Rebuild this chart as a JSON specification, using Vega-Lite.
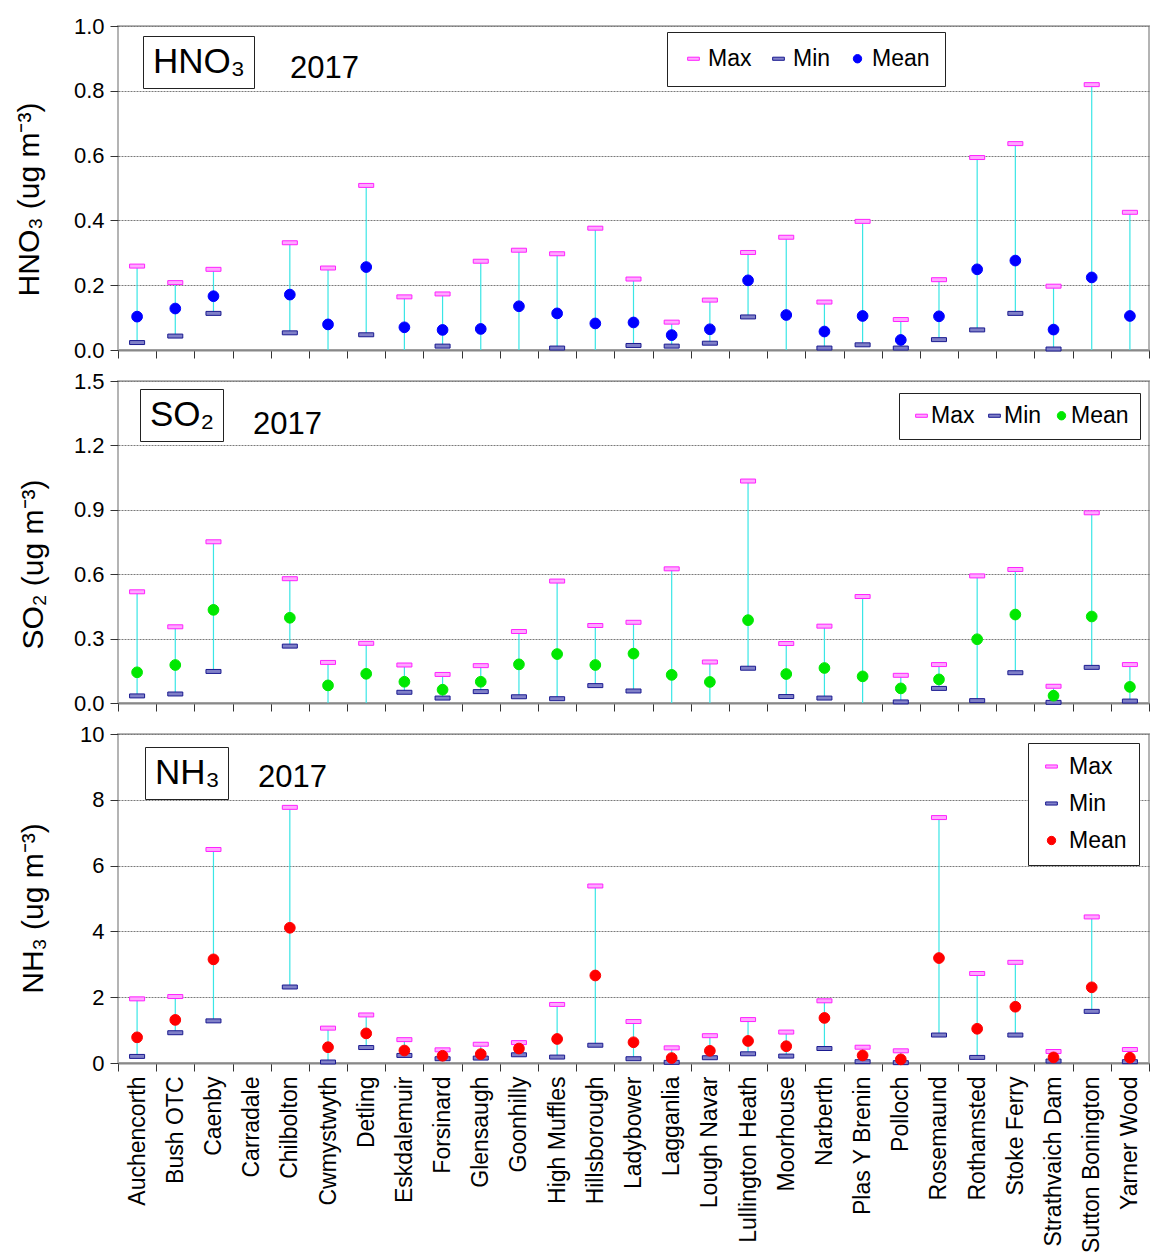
{
  "$schema": "https://vega.github.io/schema/vega-lite/v6.json",
  "padding": {"top": 14, "left": 13, "right": 0, "bottom": 0},
  "spacing": 31,
  "bounds": "flush",
  "datasets": {
    "hno3": [
      {"site": "Auchencorth", "gas": "HNO₃", "Max": 0.259, "Min": 0.023, "Mean": 0.103},
      {"site": "Bush OTC", "gas": "HNO₃", "Max": 0.208, "Min": 0.043, "Mean": 0.128},
      {"site": "Caenby", "gas": "HNO₃", "Max": 0.249, "Min": 0.113, "Mean": 0.166},
      {"site": "Chilbolton", "gas": "HNO₃", "Max": 0.331, "Min": 0.053, "Mean": 0.171},
      {"site": "Cwmystwyth", "gas": "HNO₃", "Max": 0.253, "Min": 0, "Mean": 0.079},
      {"site": "Detling", "gas": "HNO₃", "Max": 0.508, "Min": 0.047, "Mean": 0.256},
      {"site": "Eskdalemuir", "gas": "HNO₃", "Max": 0.164, "Min": 0, "Mean": 0.07},
      {"site": "Forsinard", "gas": "HNO₃", "Max": 0.173, "Min": 0.012, "Mean": 0.062},
      {"site": "Glensaugh", "gas": "HNO₃", "Max": 0.274, "Min": 0, "Mean": 0.065},
      {"site": "Goonhilly", "gas": "HNO₃", "Max": 0.308, "Min": 0, "Mean": 0.135},
      {"site": "High Muffles", "gas": "HNO₃", "Max": 0.297, "Min": 0.006, "Mean": 0.113},
      {"site": "Hillsborough", "gas": "HNO₃", "Max": 0.376, "Min": 0, "Mean": 0.082},
      {"site": "Ladybower", "gas": "HNO₃", "Max": 0.219, "Min": 0.014, "Mean": 0.085},
      {"site": "Lagganlia", "gas": "HNO₃", "Max": 0.086, "Min": 0.012, "Mean": 0.046},
      {"site": "Lough Navar", "gas": "HNO₃", "Max": 0.154, "Min": 0.021, "Mean": 0.064},
      {"site": "Lullington Heath", "gas": "HNO₃", "Max": 0.301, "Min": 0.102, "Mean": 0.215},
      {"site": "Moorhouse", "gas": "HNO₃", "Max": 0.348, "Min": 0, "Mean": 0.108},
      {"site": "Narberth", "gas": "HNO₃", "Max": 0.148, "Min": 0.006, "Mean": 0.057},
      {"site": "Plas Y Brenin", "gas": "HNO₃", "Max": 0.397, "Min": 0.016, "Mean": 0.105},
      {"site": "Polloch", "gas": "HNO₃", "Max": 0.094, "Min": 0.006, "Mean": 0.031},
      {"site": "Rosemaund", "gas": "HNO₃", "Max": 0.217, "Min": 0.032, "Mean": 0.104},
      {"site": "Rothamsted", "gas": "HNO₃", "Max": 0.594, "Min": 0.062, "Mean": 0.249},
      {"site": "Stoke Ferry", "gas": "HNO₃", "Max": 0.637, "Min": 0.113, "Mean": 0.276},
      {"site": "Strathvaich Dam", "gas": "HNO₃", "Max": 0.197, "Min": 0.003, "Mean": 0.063},
      {"site": "Sutton Bonington", "gas": "HNO₃", "Max": 0.819, "Min": 0, "Mean": 0.224},
      {"site": "Yarner Wood", "gas": "HNO₃", "Max": 0.425, "Min": 0, "Mean": 0.105}
    ],
    "so2": [
      {"site": "Auchencorth", "gas": "SO₂", "Max": 0.518, "Min": 0.033, "Mean": 0.143},
      {"site": "Bush OTC", "gas": "SO₂", "Max": 0.355, "Min": 0.042, "Mean": 0.177},
      {"site": "Caenby", "gas": "SO₂", "Max": 0.751, "Min": 0.147, "Mean": 0.434},
      {"site": "Chilbolton", "gas": "SO₂", "Max": 0.579, "Min": 0.265, "Mean": 0.397},
      {"site": "Cwmystwyth", "gas": "SO₂", "Max": 0.189, "Min": 0, "Mean": 0.082},
      {"site": "Detling", "gas": "SO₂", "Max": 0.278, "Min": 0, "Mean": 0.136},
      {"site": "Eskdalemuir", "gas": "SO₂", "Max": 0.177, "Min": 0.05, "Mean": 0.099},
      {"site": "Forsinard", "gas": "SO₂", "Max": 0.133, "Min": 0.023, "Mean": 0.062},
      {"site": "Glensaugh", "gas": "SO₂", "Max": 0.174, "Min": 0.053, "Mean": 0.099},
      {"site": "Goonhilly", "gas": "SO₂", "Max": 0.333, "Min": 0.029, "Mean": 0.18},
      {"site": "High Muffles", "gas": "SO₂", "Max": 0.568, "Min": 0.02, "Mean": 0.228},
      {"site": "Hillsborough", "gas": "SO₂", "Max": 0.361, "Min": 0.081, "Mean": 0.177},
      {"site": "Ladybower", "gas": "SO₂", "Max": 0.376, "Min": 0.056, "Mean": 0.23},
      {"site": "Lagganlia", "gas": "SO₂", "Max": 0.625, "Min": 0, "Mean": 0.131},
      {"site": "Lough Navar", "gas": "SO₂", "Max": 0.191, "Min": 0, "Mean": 0.098},
      {"site": "Lullington Heath", "gas": "SO₂", "Max": 1.034, "Min": 0.162, "Mean": 0.386},
      {"site": "Moorhouse", "gas": "SO₂", "Max": 0.277, "Min": 0.03, "Mean": 0.135},
      {"site": "Narberth", "gas": "SO₂", "Max": 0.358, "Min": 0.023, "Mean": 0.163},
      {"site": "Plas Y Brenin", "gas": "SO₂", "Max": 0.496, "Min": 0, "Mean": 0.124},
      {"site": "Polloch", "gas": "SO₂", "Max": 0.129, "Min": 0.005, "Mean": 0.068},
      {"site": "Rosemaund", "gas": "SO₂", "Max": 0.179, "Min": 0.068, "Mean": 0.11},
      {"site": "Rothamsted", "gas": "SO₂", "Max": 0.592, "Min": 0.011, "Mean": 0.297},
      {"site": "Stoke Ferry", "gas": "SO₂", "Max": 0.622, "Min": 0.141, "Mean": 0.412},
      {"site": "Strathvaich Dam", "gas": "SO₂", "Max": 0.078, "Min": 0.003, "Mean": 0.034},
      {"site": "Sutton Bonington", "gas": "SO₂", "Max": 0.886, "Min": 0.166, "Mean": 0.403},
      {"site": "Yarner Wood", "gas": "SO₂", "Max": 0.179, "Min": 0.009, "Mean": 0.075}
    ],
    "nh3": [
      {"site": "Auchencorth", "gas": "NH₃", "Max": 1.95, "Min": 0.2, "Mean": 0.78},
      {"site": "Bush OTC", "gas": "NH₃", "Max": 2.02, "Min": 0.92, "Mean": 1.31},
      {"site": "Caenby", "gas": "NH₃", "Max": 6.49, "Min": 1.28, "Mean": 3.15},
      {"site": "Chilbolton", "gas": "NH₃", "Max": 7.77, "Min": 2.31, "Mean": 4.11},
      {"site": "Cwmystwyth", "gas": "NH₃", "Max": 1.06, "Min": 0.03, "Mean": 0.48},
      {"site": "Detling", "gas": "NH₃", "Max": 1.46, "Min": 0.47, "Mean": 0.9},
      {"site": "Eskdalemuir", "gas": "NH₃", "Max": 0.71, "Min": 0.23, "Mean": 0.38},
      {"site": "Forsinard", "gas": "NH₃", "Max": 0.4, "Min": 0.13, "Mean": 0.22},
      {"site": "Glensaugh", "gas": "NH₃", "Max": 0.57, "Min": 0.15, "Mean": 0.27},
      {"site": "Goonhilly", "gas": "NH₃", "Max": 0.62, "Min": 0.25, "Mean": 0.44},
      {"site": "High Muffles", "gas": "NH₃", "Max": 1.78, "Min": 0.18, "Mean": 0.73},
      {"site": "Hillsborough", "gas": "NH₃", "Max": 5.38, "Min": 0.54, "Mean": 2.66},
      {"site": "Ladybower", "gas": "NH₃", "Max": 1.26, "Min": 0.13, "Mean": 0.63},
      {"site": "Lagganlia", "gas": "NH₃", "Max": 0.46, "Min": 0.02, "Mean": 0.15},
      {"site": "Lough Navar", "gas": "NH₃", "Max": 0.83, "Min": 0.16, "Mean": 0.37},
      {"site": "Lullington Heath", "gas": "NH₃", "Max": 1.32, "Min": 0.28, "Mean": 0.67},
      {"site": "Moorhouse", "gas": "NH₃", "Max": 0.94, "Min": 0.21, "Mean": 0.51},
      {"site": "Narberth", "gas": "NH₃", "Max": 1.89, "Min": 0.44, "Mean": 1.37},
      {"site": "Plas Y Brenin", "gas": "NH₃", "Max": 0.48, "Min": 0.04, "Mean": 0.23},
      {"site": "Polloch", "gas": "NH₃", "Max": 0.37, "Min": 0.01, "Mean": 0.11},
      {"site": "Rosemaund", "gas": "NH₃", "Max": 7.46, "Min": 0.85, "Mean": 3.19},
      {"site": "Rothamsted", "gas": "NH₃", "Max": 2.72, "Min": 0.17, "Mean": 1.04},
      {"site": "Stoke Ferry", "gas": "NH₃", "Max": 3.06, "Min": 0.85, "Mean": 1.71},
      {"site": "Strathvaich Dam", "gas": "NH₃", "Max": 0.35, "Min": 0.06, "Mean": 0.17},
      {"site": "Sutton Bonington", "gas": "NH₃", "Max": 4.44, "Min": 1.57, "Mean": 2.3},
      {"site": "Yarner Wood", "gas": "NH₃", "Max": 0.41, "Min": 0.04, "Mean": 0.16}
    ]
  },
  "vconcat": [
    {
      "width": 1031, "height": 324,
      "data": {"name": "hno3"},
      "title": {"text": "2017", "anchor": "start", "frame": "group", "fontSize": 31, "fontWeight": "normal", "font": "Liberation Sans", "offset": 0, "dx": 172, "dy": 94, "baseline": "alphabetic"},
      "layer": [
        {
          "mark": {"type": "rule", "color": "#3ae6e6", "strokeWidth": 1.2},
          "encoding": {
            "x": {"field": "site", "type": "nominal", "scale": {"type": "band", "domain": ["Auchencorth","Bush OTC","Caenby","Carradale","Chilbolton","Cwmystwyth","Detling","Eskdalemuir","Forsinard","Glensaugh","Goonhilly","High Muffles","Hillsborough","Ladybower","Lagganlia","Lough Navar","Lullington Heath","Moorhouse","Narberth","Plas Y Brenin","Polloch","Rosemaund","Rothamsted","Stoke Ferry","Strathvaich Dam","Sutton Bonington","Yarner Wood"], "paddingInner": 0, "paddingOuter": 0}, "axis": {"title": null, "labels": false, "tickBand": "extent"}},
            "y": {"field": "Min", "type": "quantitative", "scale": {"domain": [0, 1], "nice": false}, "axis": {"title": "HNO₃ (ug m⁻³)", "values": [0, 0.2, 0.4, 0.6, 0.8, 1.0], "format": ".1f", "titleX": -74, "titleY": 173}},
            "y2": {"field": "Max"},
            "strokeDash": {"field": "gas", "type": "nominal", "scale": {"range": [[1, 0]]}, "legend": {"title": null, "orient": "none", "legendX": 25, "legendY": 10, "labelFontSize": 35, "symbolType": "circle", "symbolSize": 0, "symbolOpacity": 0, "symbolStrokeWidth": 0, "labelOffset": -33, "padding": 8, "strokeColor": "#222", "fillColor": "white"}}
          }
        },
        {
          "transform": [{"fold": ["Max", "Min", "Mean"], "as": ["stat", "value"]}, {"filter": "datum.value > 0"}],
          "mark": {"type": "point", "filled": true, "size": 115, "opacity": 1, "strokeWidth": 1},
          "encoding": {
            "x": {"field": "site", "type": "nominal"},
            "y": {"field": "value", "type": "quantitative", "axis": {"title": "HNO₃ (ug m⁻³)", "values": [0, 0.2, 0.4, 0.6, 0.8, 1.0], "format": ".1f", "titleX": -74, "titleY": 173}},
            "color": {"field": "stat", "type": "nominal", "scale": {"domain": ["Max", "Min", "Mean"], "range": ["#ffa8ff", "#8080c8", "#0000ff"]}, "legend": {"title": null, "orient": "none", "legendX": 549, "legendY": 6, "direction": "horizontal", "labelOffset": 3, "columnPadding": 15, "padding": 15}},
            "stroke": {"field": "stat", "type": "nominal", "scale": {"domain": ["Max", "Min", "Mean"], "range": ["#ff20ff", "#1a1a90", "#0000ff"]}, "legend": {"title": null, "orient": "none", "legendX": 549, "legendY": 6, "direction": "horizontal", "labelOffset": 3, "columnPadding": 15, "padding": 15}},
            "shape": {"field": "stat", "type": "nominal", "scale": {"domain": ["Max", "Min", "Mean"], "range": ["M-1.4,-0.37H1.4V0.37H-1.4Z", "M-1.4,-0.37H1.4V0.37H-1.4Z", "circle"]}, "legend": {"title": null, "orient": "none", "legendX": 549, "legendY": 6, "direction": "horizontal", "labelOffset": 3, "columnPadding": 15, "padding": 15}}
          }
        }
      ]
    },
    {
      "width": 1031, "height": 322,
      "data": {"name": "so2"},
      "title": {"text": "2017", "anchor": "start", "frame": "group", "fontSize": 31, "fontWeight": "normal", "font": "Liberation Sans", "offset": 0, "dx": 135, "dy": 95, "baseline": "alphabetic"},
      "layer": [
        {
          "mark": {"type": "rule", "color": "#3ae6e6", "strokeWidth": 1.2},
          "encoding": {
            "x": {"field": "site", "type": "nominal", "scale": {"type": "band", "domain": ["Auchencorth","Bush OTC","Caenby","Carradale","Chilbolton","Cwmystwyth","Detling","Eskdalemuir","Forsinard","Glensaugh","Goonhilly","High Muffles","Hillsborough","Ladybower","Lagganlia","Lough Navar","Lullington Heath","Moorhouse","Narberth","Plas Y Brenin","Polloch","Rosemaund","Rothamsted","Stoke Ferry","Strathvaich Dam","Sutton Bonington","Yarner Wood"], "paddingInner": 0, "paddingOuter": 0}, "axis": {"title": null, "labels": false, "tickBand": "extent"}},
            "y": {"field": "Min", "type": "quantitative", "scale": {"domain": [0, 1.5], "nice": false}, "axis": {"title": "SO₂ (ug m⁻³)", "values": [0, 0.3, 0.6, 0.9, 1.2, 1.5], "format": ".1f", "titleX": -70, "titleY": 183}},
            "y2": {"field": "Max"},
            "strokeDash": {"field": "gas", "type": "nominal", "scale": {"range": [[1, 0]]}, "legend": {"title": null, "orient": "none", "legendX": 22, "legendY": 8, "labelFontSize": 35, "symbolType": "circle", "symbolSize": 0, "symbolOpacity": 0, "symbolStrokeWidth": 0, "labelOffset": -33, "padding": 8, "strokeColor": "#222", "fillColor": "white"}}
          }
        },
        {
          "transform": [{"fold": ["Max", "Min", "Mean"], "as": ["stat", "value"]}, {"filter": "datum.value > 0"}],
          "mark": {"type": "point", "filled": true, "size": 115, "opacity": 1, "strokeWidth": 1},
          "encoding": {
            "x": {"field": "site", "type": "nominal"},
            "y": {"field": "value", "type": "quantitative", "axis": {"title": "SO₂ (ug m⁻³)", "values": [0, 0.3, 0.6, 0.9, 1.2, 1.5], "format": ".1f", "titleX": -70, "titleY": 183}},
            "color": {"field": "stat", "type": "nominal", "scale": {"domain": ["Max", "Min", "Mean"], "range": ["#ffa8ff", "#8080c8", "#00e800"]}, "legend": {"title": null, "orient": "none", "legendX": 781, "legendY": 12, "direction": "horizontal", "labelOffset": -2, "columnPadding": 8, "padding": 11}},
            "stroke": {"field": "stat", "type": "nominal", "scale": {"domain": ["Max", "Min", "Mean"], "range": ["#ff20ff", "#1a1a90", "#00e800"]}, "legend": {"title": null, "orient": "none", "legendX": 781, "legendY": 12, "direction": "horizontal", "labelOffset": -2, "columnPadding": 8, "padding": 11}},
            "shape": {"field": "stat", "type": "nominal", "scale": {"domain": ["Max", "Min", "Mean"], "range": ["M-1.4,-0.37H1.4V0.37H-1.4Z", "M-1.4,-0.37H1.4V0.37H-1.4Z", "circle"]}, "legend": {"title": null, "orient": "none", "legendX": 781, "legendY": 12, "direction": "horizontal", "labelOffset": -2, "columnPadding": 8, "padding": 11}}
          }
        }
      ]
    },
    {
      "width": 1031, "height": 329,
      "data": {"name": "nh3"},
      "title": {"text": "2017", "anchor": "start", "frame": "group", "fontSize": 31, "fontWeight": "normal", "font": "Liberation Sans", "offset": 0, "dx": 140, "dy": 95, "baseline": "alphabetic"},
      "layer": [
        {
          "mark": {"type": "rule", "color": "#3ae6e6", "strokeWidth": 1.2},
          "encoding": {
            "x": {"field": "site", "type": "nominal", "scale": {"type": "band", "domain": ["Auchencorth","Bush OTC","Caenby","Carradale","Chilbolton","Cwmystwyth","Detling","Eskdalemuir","Forsinard","Glensaugh","Goonhilly","High Muffles","Hillsborough","Ladybower","Lagganlia","Lough Navar","Lullington Heath","Moorhouse","Narberth","Plas Y Brenin","Polloch","Rosemaund","Rothamsted","Stoke Ferry","Strathvaich Dam","Sutton Bonington","Yarner Wood"], "paddingInner": 0, "paddingOuter": 0}, "axis": {"title": null, "labels": true, "labelAngle": -90, "labelFontSize": 23, "labelPadding": 5, "tickBand": "extent", "labelAlign": "right", "labelBaseline": "middle"}},
            "y": {"field": "Min", "type": "quantitative", "scale": {"domain": [0, 10], "nice": false}, "axis": {"title": "NH₃ (ug m⁻³)", "values": [0, 2, 4, 6, 8, 10], "format": "d", "titleX": -70, "titleY": 174}},
            "y2": {"field": "Max"},
            "strokeDash": {"field": "gas", "type": "nominal", "scale": {"range": [[1, 0]]}, "legend": {"title": null, "orient": "none", "legendX": 27, "legendY": 13, "labelFontSize": 35, "symbolType": "circle", "symbolSize": 0, "symbolOpacity": 0, "symbolStrokeWidth": 0, "labelOffset": -33, "padding": 8, "strokeColor": "#222", "fillColor": "white"}}
          }
        },
        {
          "transform": [{"fold": ["Max", "Min", "Mean"], "as": ["stat", "value"]}, {"filter": "datum.value > 0"}],
          "mark": {"type": "point", "filled": true, "size": 115, "opacity": 1, "strokeWidth": 1},
          "encoding": {
            "x": {"field": "site", "type": "nominal"},
            "y": {"field": "value", "type": "quantitative", "axis": {"title": "NH₃ (ug m⁻³)", "values": [0, 2, 4, 6, 8, 10], "format": "d", "titleX": -70, "titleY": 174}},
            "color": {"field": "stat", "type": "nominal", "scale": {"domain": ["Max", "Min", "Mean"], "range": ["#ffa8ff", "#8080c8", "#ff0000"]}, "legend": {"title": null, "orient": "none", "legendX": 910, "legendY": 9, "direction": "vertical", "rowPadding": 13, "labelOffset": 6, "padding": 12}},
            "stroke": {"field": "stat", "type": "nominal", "scale": {"domain": ["Max", "Min", "Mean"], "range": ["#ff20ff", "#1a1a90", "#ff0000"]}, "legend": {"title": null, "orient": "none", "legendX": 910, "legendY": 9, "direction": "vertical", "rowPadding": 13, "labelOffset": 6, "padding": 12}},
            "shape": {"field": "stat", "type": "nominal", "scale": {"domain": ["Max", "Min", "Mean"], "range": ["M-1.4,-0.37H1.4V0.37H-1.4Z", "M-1.4,-0.37H1.4V0.37H-1.4Z", "circle"]}, "legend": {"title": null, "orient": "none", "legendX": 910, "legendY": 9, "direction": "vertical", "rowPadding": 13, "labelOffset": 6, "padding": 12}}
          }
        }
      ]
    }
  ],
  "resolve": {
    "scale": {"x": "independent", "y": "independent", "color": "independent", "stroke": "independent", "shape": "independent", "strokeDash": "independent"},
    "legend": {"color": "independent", "stroke": "independent", "shape": "independent", "strokeDash": "independent"}
  },
  "config": {
    "font": "Liberation Sans",
    "view": {"stroke": "#b4b4b4", "strokeWidth": 2},
    "axis": {"labelFont": "Liberation Sans", "titleFont": "Liberation Sans", "labelColor": "black", "titleColor": "black", "titleFontWeight": "normal", "labelFontSize": 22, "titleFontSize": 30, "tickColor": "#333", "tickSize": 8, "labelPadding": 6, "domainColor": "#888", "domainWidth": 2},
    "axisY": {"grid": true, "gridColor": "#7a7a7a", "gridDash": [2, 1], "gridWidth": 1, "domain": false, "titleAngle": -90, "titleBaseline": "bottom", "titleAlign": "center"},
    "axisX": {"grid": false},
    "legend": {"labelFont": "Liberation Sans", "labelFontSize": 23, "labelColor": "black", "symbolSize": 70, "symbolStrokeWidth": 1, "labelOffset": 8, "columnPadding": 22, "padding": 14, "strokeColor": "#222", "fillColor": "white", "symbolOpacity": 1}
  }
}
